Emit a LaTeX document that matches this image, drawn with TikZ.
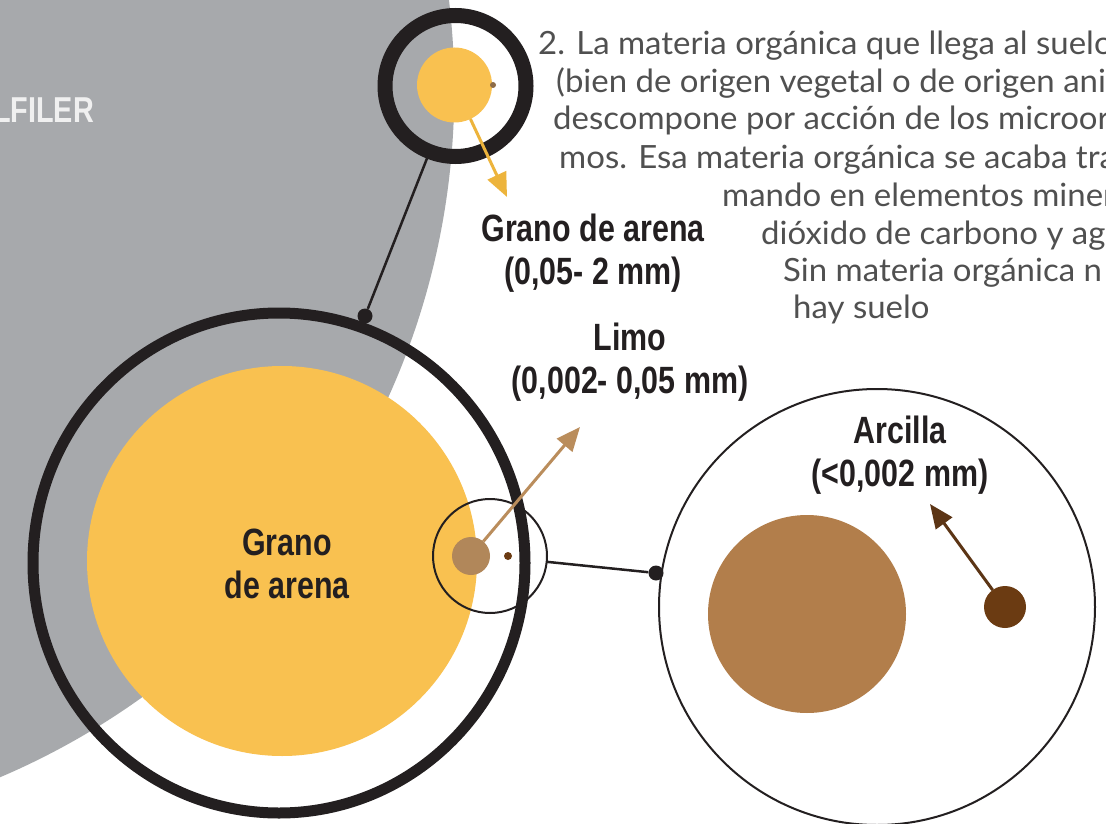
\documentclass[tikz,border=0pt]{standalone}
\usepackage{fontspec}
\usetikzlibrary{arrows.meta,shapes.geometric}
\newfontfamily\labfont[FakeStretch=0.8]{Liberation Sans}
\newfontfamily\handfont[FakeStretch=1.03]{Lato}
\definecolor{graybg}{HTML}{A7A9AC}
\definecolor{sandy}{HTML}{F9C150}
\definecolor{sandarrow}{HTML}{EDB43C}
\definecolor{limoc}{HTML}{B1875A}
\definecolor{limoarrow}{HTML}{BA8D5C}
\definecolor{arcc}{HTML}{B27E4B}
\definecolor{darkb}{HTML}{6B3B12}
\definecolor{arcarrow}{HTML}{5C3515}
\definecolor{ink}{HTML}{231F20}
\definecolor{hand}{HTML}{505050}
\definecolor{ghost}{HTML}{F0F0F0}
\begin{document}
\begin{tikzpicture}[x=1pt,y=-1pt,
  lab/.style={font=\labfont\bfseries\fontsize{38}{43}\selectfont, text=ink, align=center, inner sep=0pt},
  hw/.style={font=\handfont\fontsize{32}{38}\selectfont, text=hand, anchor=base west, inner sep=0pt},
  disc/.style={circle, inner sep=0pt, outer sep=0pt, draw=none},
  conn/.style={draw=ink, line width=2.5pt},
  pin/.style={circle, fill=ink, inner sep=0pt, minimum size=15pt},
  arr/.style={line width=3pt, -{Triangle[length=24pt,width=20pt]}},
]
\useasboundingbox (0,0) rectangle (1106,824);
\clip (0,0) rectangle (1106,824);
\fill[white] (0,0) rectangle (1106,824);
% grey background disc
\fill[graybg] (-292.7,89.8) circle (747pt);
\node[font=\labfont\bfseries\fontsize{36}{40}\selectfont, text=ghost, anchor=base west, inner sep=0pt] (alfiler) at (-7,123) {LFILER};
% big sand grain
\node[disc, fill=sandy, minimum size=390pt] (bigsand) at (282,561) {};
\node[ellipse, draw=ink, line width=11pt, inner sep=0pt, outer sep=0pt, minimum width=492pt, minimum height=500pt] (bigring) at (279,563) {};
% top ring with sand grain
\node[circle, draw=ink, line width=15pt, inner sep=0pt, outer sep=0pt, minimum size=141pt] (topring) at (455.5,86) {};
\node[disc, fill=sandy, minimum size=75pt] (topsand) at (454.5,85) {};
\node[disc, fill=limoc!80!black, minimum size=6pt] (topdot) at (493,85) {};
\node[pin] (pin1) at (365,316) {};
\draw[conn] (topring) -- (pin1);
% limo zoom circle
\node[circle, draw=ink, line width=2pt, inner sep=0pt, outer sep=0pt, minimum size=114pt] (limoring) at (490,556) {};
\node[disc, fill=limoc, minimum size=38pt] (limo) at (471,556) {};
\node[disc, fill=darkb, minimum size=8pt] (tinyclay) at (508,556) {};
% arcilla circle
\node[circle, draw=ink, line width=2pt, inner sep=0pt, outer sep=0pt, minimum size=436pt] (arcring) at (877,607) {};
\node[pin] (pin2) at (656,573) {};
\draw[conn] (limoring) -- (pin2);
\node[disc, fill=arcc, minimum size=198pt] (bigsilt) at (807,614) {};
\node[disc, fill=darkb, minimum size=42pt] (clay) at (1005,607) {};
% arrows
\coordinate (tipsand) at (507,197);
\coordinate (tiplimo) at (580,427);
\coordinate (tipclay) at (930,504);
\draw[arr, sandarrow] (topsand) -- (tipsand);
\draw[arr, limoarrow] (limo) -- (tiplimo);
\draw[arr, arcarrow] (clay) -- (tipclay);
% labels
\node[lab] (lsand) at (593,253) {Grano de arena\\(0,05- 2 mm)};
\node[lab] (llimo) at (630,362) {Limo\\(0,002- 0,05 mm)};
\node[lab] (lclay) at (900,455) {Arcilla\\(<0,002 mm)};
\node[lab] (lbig) at (287,564) {Grano\\de arena};
% handwritten note
\node[hw] (h1) at (538,55) {2. La materia orgánica que llega al suelo};
\node[hw] (h2) at (556,93) {(bien de origen vegetal o de origen anim};
\node[hw] (h3) at (553,130) {descompone por acción de los microorgan};
\node[hw] (h4) at (559,168) {mos. Esa materia orgánica se acaba tran};
\node[hw] (h5) at (722,206) {mando en elementos minera};
\node[hw] (h6) at (761,244) {dióxido de carbono y agu};
\node[hw] (h7) at (783,281) {Sin materia orgánica n};
\node[hw] (h8) at (793,318) {hay suelo};
\end{tikzpicture}
\end{document}
